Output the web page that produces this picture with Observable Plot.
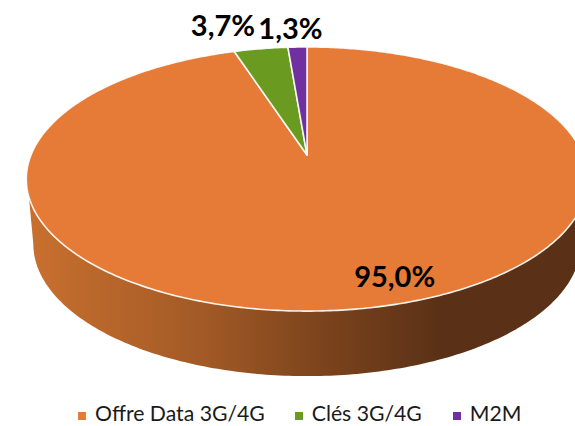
<!DOCTYPE html>
<html><head><meta charset="utf-8">
<script src="https://cdn.jsdelivr.net/npm/d3@7"></script>
<script src="https://cdn.jsdelivr.net/npm/@observablehq/plot@0.6"></script>
<style>
html,body{margin:0;padding:0;background:#fff;width:575px;height:426px}
svg{display:block}
#legend{display:flex;height:20px;align-items:center;padding-left:78px;font:21.2px/20px Lato,sans-serif;color:#1a1a1a;white-space:nowrap}
#legend .item{display:flex;align-items:center}
#legend span{display:inline-block;line-height:20px;height:20px}
#legend i{display:block;width:8px;height:8px;margin-right:9px;position:relative;top:2.5px}
</style></head><body>
<div id="chart"></div>
<div id="legend"></div>
<script>
// Chart data
const categories = ["Offre Data 3G/4G", "Clés 3G/4G", "M2M"];
const shares = [95.0, 3.7, 1.3];
const colors = ["#E67B37", "#6A9B20", "#7030A0"];

// Layout: perspective of the tilted disc, in pixels around its centre
const W = 575, H = 403, cx = 306.5, cy = 154.5;
const a = 276, b = 127.7, p = 0.182, depth = 65, floorScale = 0.975;
const legendGaps = [30, 31];
const labelNudge = [[35, -31], [-38, -22], [-7, -17]];

const project = (t, r = 1) => {
  const u = r * Math.sin(t), v = r * Math.cos(t), w = 1 + p * v;
  return {x: a * u / w, y: b * v / w};
};
const TAU = 2 * Math.PI;

// Slices run clockwise from twelve o'clock
const total = d3.sum(shares);
let acc = 0;
const slices = categories.map((name, i) => {
  const start = acc / total * TAU; acc += shares[i];
  const end = acc / total * TAU;
  return {name, share: shares[i], start, end, mid: (start + end) / 2};
});

const topPoints = slices.flatMap(s => {
  const n = Math.max(2, Math.ceil((s.end - s.start) * 90));
  const rim = d3.range(n + 1).map(k => project(s.start + (s.end - s.start) * k / n));
  const c = project(0, 0);
  return [c, ...rim, c].map(q => ({...q, name: s.name}));
});

// Visible side wall: front part of the rim, then the floor edge coming back
const rimAngle = v => Math.acos(v);
const wallTop = d3.range(201).map(k => {
  const t0 = rimAngle(-0.31);
  return project(t0 + (TAU - 2 * t0) * k / 200);
});
const wallFloor = d3.range(201).map(k => {
  const t0 = rimAngle(-0.182);
  const q = project(TAU - t0 - (TAU - 2 * t0) * k / 200);
  return {x: q.x * floorScale, y: q.y - depth};
});
const wall = [...wallTop, ...wallFloor, wallTop[0]];

const gradient = () => {
  const svg = d3.create("svg:g");
  const g = svg.append("defs").append("linearGradient").attr("id", "wallShade")
    .attr("gradientUnits", "userSpaceOnUse").attr("x1", 27).attr("x2", 440).attr("y1", 0).attr("y2", 0);
  [[0, "#C9702F"], [0.42, "#A35A26"], [0.72, "#7B431C"], [1, "#5A3116"]]
    .forEach(([o, c]) => g.append("stop").attr("offset", o).attr("stop-color", c));
  return svg.node();
};

const fmt = v => d3.format(".1f")(v).replace(".", ",") + "%";

const chart = Plot.plot({
  width: W, height: H, margin: 0,
  x: {domain: [-cx, W - cx], range: [0, W], axis: null},
  y: {domain: [cy, cy - H], range: [0, H], axis: null},
  color: {domain: categories, range: colors},
  marks: [
    gradient,
    Plot.line(wall, {x: "x", y: "y", fill: "url(#wallShade)", stroke: "none"}),
    Plot.line(topPoints, {x: "x", y: "y", z: "name", fill: "name", stroke: "#fff", strokeOpacity: 0.9, strokeWidth: 1.6, strokeLinejoin: "round"}),
    ...slices.map((s, i) => {
      const q = project(s.mid);
      return Plot.text([s], {
        x: () => q.x, y: () => q.y, text: d => fmt(d.share),
        dx: labelNudge[i][0], dy: labelNudge[i][1],
        fontFamily: "Lato", fontWeight: 700, fontSize: 29, fill: "#000"
      });
    })
  ]
});
document.getElementById("chart").append(chart);

const legend = document.getElementById("legend");
categories.forEach((name, i) => {
  const item = document.createElement("div");
  item.className = "item";
  if (i) item.style.marginLeft = legendGaps[i - 1] + "px";
  item.innerHTML = `<i style="background:${colors[i]}"></i><span>${name}</span>`;
  legend.append(item);
});
</script>
</body></html>
